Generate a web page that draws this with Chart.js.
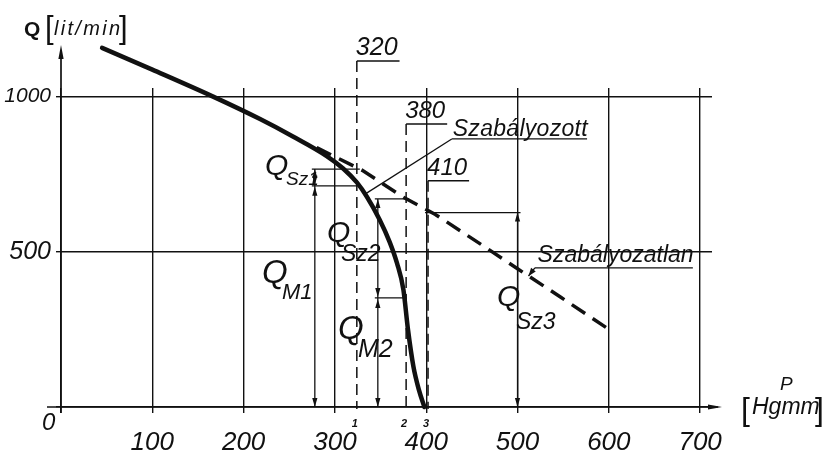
<!DOCTYPE html>
<html>
<head>
<meta charset="utf-8">
<script src="https://cdn.jsdelivr.net/npm/chart.js@4.4.1/dist/chart.umd.min.js"></script>
<style>
  html, body { margin: 0; padding: 0; background: #fff; }
</style>
</head>
<body>
<canvas id="chart" width="826" height="454"></canvas>
<script>
// P [Hgmm] on x, Q [lit/min] on y
const xTicks = [0, 100, 200, 300, 400, 500, 600, 700];
const yTicks = [0, 500, 1000];

// regulated curve (solid)
const regP = [45, 100, 166, 218, 254, 291, 309, 324, 335, 349, 360, 368, 375, 380, 386, 392, 398];
const regQ = [1156, 1086, 1000, 927, 871, 808, 768, 723, 677, 603, 531, 463, 378, 250, 130, 55, 0];

// unregulated curve (dashed)
const unregP = [280, 330, 375, 410, 467, 500, 547, 600];
const unregQ = [835, 762, 675, 620, 510, 445, 354, 250];

// marked pressures 1, 2, 3 (where they are drawn) and their labels
const markP = [324, 378, 402];
const markLabels = ['320', '380', '410'];
const markTopQ = [1114, 911, 728];

// dimension lines: Q_Sz between top and mid, Q_M between mid and 0
const dimP = [278, 347, 500];
const dimTopQ = [766, 670, 626];
const dimMidQ = [712, 351, 0];

const ink = '#111';
const FONT = "'Liberation Sans', Arial, sans-serif";

function interp(ps, qs, p) {
    for (let i = 0; i < ps.length - 1; i++) {
        if (p >= ps[i] && p <= ps[i + 1]) {
            const t = (p - ps[i]) / (ps[i + 1] - ps[i]);
            return qs[i] + t * (qs[i + 1] - qs[i]);
        }
    }
    return qs[qs.length - 1];
}

function line(ctx, x1, y1, x2, y2) {
    ctx.beginPath();
    ctx.moveTo(x1, y1);
    ctx.lineTo(x2, y2);
    ctx.stroke();
}

// filled arrowhead, tip at (x, y), pointing along (dx, dy)
function arrow(ctx, x, y, dx, dy, len = 9, w = 2.6) {
    const n = Math.hypot(dx, dy);
    dx /= n; dy /= n;
    ctx.beginPath();
    ctx.moveTo(x, y);
    ctx.lineTo(x - dx * len - dy * w, y - dy * len + dx * w);
    ctx.lineTo(x - dx * len + dy * w, y - dy * len - dx * w);
    ctx.closePath();
    ctx.fill();
}

function text(ctx, s, x, y, size, opts = {}) {
    ctx.font = `${opts.style || 'italic'} ${opts.weight || 'normal'} ${size}px ${FONT}`;
    ctx.letterSpacing = (opts.ls || 0) + 'px';
    ctx.textAlign = opts.align || 'left';
    ctx.textBaseline = 'alphabetic';
    ctx.fillText(s, x, y);
    const w = ctx.measureText(s).width;
    ctx.letterSpacing = '0px';
    return w;
}

function qLabel(ctx, sub, x, y, qs, sx, sy, ss) {
    text(ctx, 'Q', x, y, qs);
    text(ctx, sub, sx, sy, ss);
}

const sketch = {
    id: 'sketch',
    beforeDatasetsDraw(chart) {
        const { ctx, chartArea, scales } = chart;
        const X = v => scales.x.getPixelForValue(v);
        const Y = v => scales.y.getPixelForValue(v);
        ctx.save();
        ctx.strokeStyle = ink;
        ctx.fillStyle = ink;

        // axes with arrows
        ctx.lineWidth = 1.7;
        line(ctx, X(0) - 14, Y(0), chartArea.right + 6, Y(0));
        arrow(ctx, chartArea.right + 10, Y(0), 1, 0, 14, 2.6);
        line(ctx, X(0), Y(0) + 6, X(0), chartArea.top - 38);
        arrow(ctx, X(0), chartArea.top - 43, 0, -1, 14, 2.6);

        // dashed verticals 1, 2, 3 with underlined labels
        markP.forEach((p, i) => {
            const px = X(p), top = Y(markTopQ[i]);
            ctx.lineWidth = 1.5;
            ctx.setLineDash([11, 6]);
            line(ctx, px, top, px, Y(0) + 2);
            ctx.setLineDash([]);
            const w = text(ctx, markLabels[i], px - 1, top - 6, i === 0 ? 25 : 24);
            line(ctx, px, top, px + w + 1, top);
        });

        // dimension lines
        ctx.lineWidth = 1.3;
        dimP.forEach((p, i) => {
            const px = X(p);
            line(ctx, px, Y(0), px, Y(dimTopQ[i]));
            const m = markP[i];
            line(ctx, Math.min(X(p), X(m)) - 3, Y(dimTopQ[i]), Math.max(X(p), X(m)) + 3, Y(dimTopQ[i]));
            if (dimMidQ[i] > 0) {
                line(ctx, Math.min(X(p), X(m)) - 3, Y(dimMidQ[i]), Math.max(X(p), X(m)), Y(dimMidQ[i]));
                arrow(ctx, px, Y(dimMidQ[i]) + 1, 0, -1);
                arrow(ctx, px, Y(dimMidQ[i]) - 1, 0, 1);
            }
            arrow(ctx, px, Y(dimTopQ[i]), 0, -1);
            arrow(ctx, px, Y(0), 0, 1);
        });
        ctx.restore();
    },
    afterDatasetsDraw(chart) {
        const { ctx, scales } = chart;
        const X = v => scales.x.getPixelForValue(v);
        const Y = v => scales.y.getPixelForValue(v);
        ctx.save();
        ctx.strokeStyle = ink;
        ctx.fillStyle = ink;
        ctx.lineWidth = 1.3;

        // "Szabályozott" with leader to the solid curve
        const w1 = text(ctx, 'Szabályozott', X(429), Y(873), 23, { ls: 0.3 });
        line(ctx, X(428), Y(863), X(428) + w1, Y(863));
        line(ctx, X(428), Y(863), X(333), Y(interp(regP, regQ, 333)));

        // "Szabályozatlan" with arrow to the dashed curve
        const w2 = text(ctx, 'Szabályozatlan', X(522), Y(468), 23);
        line(ctx, X(519), Y(448), X(519) + w2 + 2, Y(448));
        const tq = interp(unregP, unregQ, 512);
        line(ctx, X(519), Y(448), X(512), Y(tq));
        arrow(ctx, X(512), Y(tq), X(512) - X(519), Y(tq) - Y(448), 8, 3);

        // Q labels
        qLabel(ctx, 'Sz1', 265, 175, 30, 286, 185, 19);
        qLabel(ctx, 'Sz2', 327, 242, 30, 341, 261, 23);
        qLabel(ctx, 'M1', 262, 283, 33, 282, 299, 22);
        qLabel(ctx, 'M2', 338, 339, 33, 358, 357, 25);
        qLabel(ctx, 'Sz3', 497, 306, 30, 516, 329, 23);

        // small numbers under the axis
        ['1', '2', '3'].forEach((s, i) => {
            text(ctx, s, X(markP[i]) - 2, 427, 11, { weight: 'bold', align: 'center' });
        });

        // axis titles
        text(ctx, 'Q', 24, 36, 21, { style: 'normal', weight: 'bold' });
        text(ctx, '[', 45, 38, 31, { style: 'normal' });
        text(ctx, 'lit/min', 54, 35, 20, { ls: 2.3 });
        text(ctx, ']', 119, 38, 31, { style: 'normal' });

        text(ctx, 'P', 780, 390, 19);
        text(ctx, '[', 741, 420, 32, { style: 'normal' });
        text(ctx, 'Hgmm', 752, 414, 23);
        text(ctx, ']', 815, 420, 32, { style: 'normal' });

        text(ctx, '0', 42, 430, 24);
        ctx.restore();
    }
};

new Chart(document.getElementById('chart'), {
    type: 'line',
    data: {
        datasets: [
            {
                label: 'Szabályozott',
                data: regP.map((p, i) => ({ x: p, y: regQ[i] })),
                borderColor: ink,
                borderWidth: 4.5,
                borderCapStyle: 'round',
                cubicInterpolationMode: 'monotone',
                pointRadius: 0,
                clip: false
            },
            {
                label: 'Szabályozatlan',
                data: unregP.map((p, i) => ({ x: p, y: unregQ[i] })),
                borderColor: ink,
                borderWidth: 3.5,
                borderDash: [16, 9],
                tension: 0,
                pointRadius: 0,
                clip: false
            }
        ]
    },
    options: {
        responsive: false,
        animation: false,
        layout: { padding: { left: 0, top: 88, right: 114, bottom: 0 } },
        plugins: { legend: { display: false }, tooltip: { enabled: false } },
        scales: {
            x: {
                type: 'linear',
                min: 0,
                max: 713,
                afterBuildTicks: s => { s.ticks = xTicks.map(v => ({ value: v })); },
                afterFit: s => { s.height = 47; },
                grid: { color: ink, lineWidth: 1.4, tickLength: 6 },
                border: { display: false },
                ticks: {
                    callback: v => v === 0 ? '' : String(v),
                    font: { family: FONT, style: 'italic', size: 26 },
                    color: ink,
                    padding: 14,
                    maxRotation: 0,
                    autoSkip: false
                }
            },
            y: {
                type: 'linear',
                min: 0,
                max: 1027,
                afterBuildTicks: s => { s.ticks = yTicks.map(v => ({ value: v })); },
                afterFit: s => { s.width = 61; },
                grid: { color: ink, lineWidth: 1.4, tickLength: 5 },
                border: { display: false },
                ticks: {
                    callback: v => v === 0 ? '' : String(v),
                    font: ctx => ({ family: FONT, style: 'italic', size: ctx.tick && ctx.tick.value === 1000 ? 21 : 25 }),
                    color: ink,
                    padding: 5
                }
            }
        }
    },
    plugins: [sketch]
});
</script>
</body>
</html>
